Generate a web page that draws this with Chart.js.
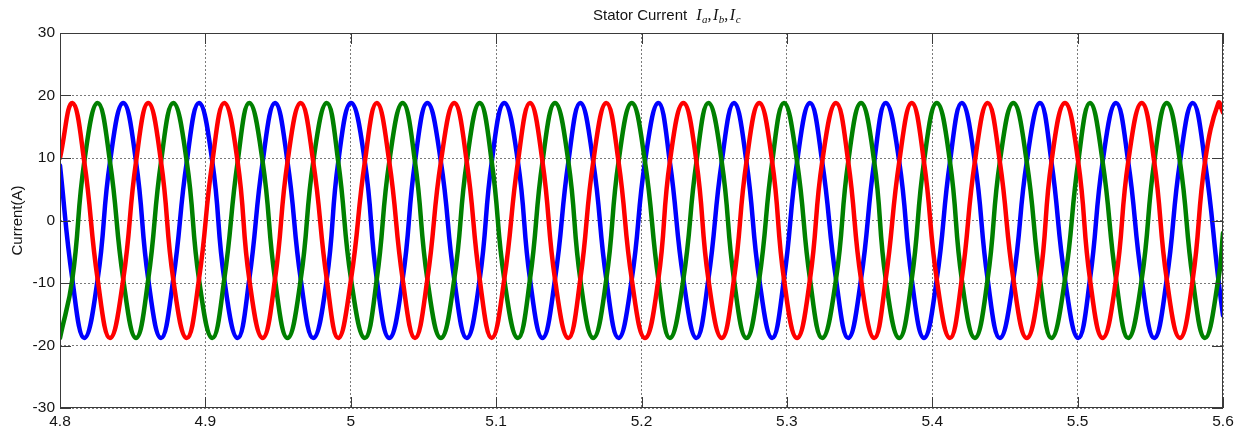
<!DOCTYPE html>
<html>
<head>
<meta charset="utf-8">
<title>Stator Current</title>
<script src="https://cdn.jsdelivr.net/npm/chart.js@4.4.1/dist/chart.umd.min.js"></script>
<style>
  html, body { margin: 0; padding: 0; background: #ffffff; }
  canvas { display: block; }
</style>
</head>
<body>
<canvas id="chart" width="1249" height="433"></canvas>
<script>
// Sample instants (s): each phase's peaks and troughs, plus the window edges.
const time = [
  4.8000, 4.8085, 4.8167, 4.8259, 4.8344, 4.8435, 4.8523,
  4.8607, 4.8695, 4.8779, 4.8872, 4.8956, 4.9048,
  4.9130, 4.9222, 4.9302, 4.9394, 4.9479, 4.9565,
  4.9656, 4.9742, 4.9835, 4.9914, 5.0002, 5.0097,
  5.0179, 5.0265, 5.0357, 5.0442, 5.0527, 5.0620,
  5.0712, 5.0798, 5.0887, 5.0970, 5.1056, 5.1150,
  5.1233, 5.1319, 5.1405, 5.1497, 5.1579, 5.1668,
  5.1758, 5.1842, 5.1933, 5.2024, 5.2116, 5.2195,
  5.2288, 5.2378, 5.2460, 5.2552, 5.2636, 5.2722,
  5.2810, 5.2899, 5.2980, 5.3070, 5.3159, 5.3243,
  5.3338, 5.3422, 5.3510, 5.3601, 5.3680, 5.3773,
  5.3859, 5.3943, 5.4031, 5.4122, 5.4203, 5.4293,
  5.4381, 5.4465, 5.4558, 5.4650, 5.4741, 5.4820,
  5.4913, 5.5004, 5.5085, 5.5172, 5.5264, 5.5348,
  5.5441, 5.5527, 5.5613, 5.5704, 5.5792, 5.5876,
  5.5968, 5.6000
];

// Phase currents (A) at those instants.
const currentA = [
  8.8,
  -9.4, -18.8, -9.4, 9.4, 18.8, 9.4,
  -9.4, -18.8, -9.4, 9.4, 18.8, 9.4,
  -9.4, -18.8, -9.4, 9.4, 18.8, 9.4,
  -9.4, -18.8, -9.4, 9.4, 18.8, 9.4,
  -9.4, -18.8, -9.4, 9.4, 18.8, 9.4,
  -9.4, -18.8, -9.4, 9.4, 18.8, 9.4,
  -9.4, -18.8, -9.4, 9.4, 18.8, 9.4,
  -9.4, -18.8, -9.4, 9.4, 18.8, 9.4,
  -9.4, -18.8, -9.4, 9.4, 18.8, 9.4,
  -9.4, -18.8, -9.4, 9.4, 18.8, 9.4,
  -9.4, -18.8, -9.4, 9.4, 18.8, 9.4,
  -9.4, -18.8, -9.4, 9.4, 18.8, 9.4,
  -9.4, -18.8, -9.4, 9.4, 18.8, 9.4,
  -9.4, -18.8, -9.4, 9.4, 18.8, 9.4,
  -9.4, -18.8, -9.4, 9.4, 18.8, 9.4,
  -9.4, -15.2
];
const currentB = [
  -18.8,
  -9.4, 9.4, 18.8, 9.4, -9.4, -18.8,
  -9.4, 9.4, 18.8, 9.4, -9.4, -18.8,
  -9.4, 9.4, 18.8, 9.4, -9.4, -18.8,
  -9.4, 9.4, 18.8, 9.4, -9.4, -18.8,
  -9.4, 9.4, 18.8, 9.4, -9.4, -18.8,
  -9.4, 9.4, 18.8, 9.4, -9.4, -18.8,
  -9.4, 9.4, 18.8, 9.4, -9.4, -18.8,
  -9.4, 9.4, 18.8, 9.4, -9.4, -18.8,
  -9.4, 9.4, 18.8, 9.4, -9.4, -18.8,
  -9.4, 9.4, 18.8, 9.4, -9.4, -18.8,
  -9.4, 9.4, 18.8, 9.4, -9.4, -18.8,
  -9.4, 9.4, 18.8, 9.4, -9.4, -18.8,
  -9.4, 9.4, 18.8, 9.4, -9.4, -18.8,
  -9.4, 9.4, 18.8, 9.4, -9.4, -18.8,
  -9.4, 9.4, 18.8, 9.4, -9.4, -18.8,
  -9.4, -2.0
];
const currentC = [
  10.0,
  18.8, 9.4, -9.4, -18.8, -9.4, 9.4,
  18.8, 9.4, -9.4, -18.8, -9.4, 9.4,
  18.8, 9.4, -9.4, -18.8, -9.4, 9.4,
  18.8, 9.4, -9.4, -18.8, -9.4, 9.4,
  18.8, 9.4, -9.4, -18.8, -9.4, 9.4,
  18.8, 9.4, -9.4, -18.8, -9.4, 9.4,
  18.8, 9.4, -9.4, -18.8, -9.4, 9.4,
  18.8, 9.4, -9.4, -18.8, -9.4, 9.4,
  18.8, 9.4, -9.4, -18.8, -9.4, 9.4,
  18.8, 9.4, -9.4, -18.8, -9.4, 9.4,
  18.8, 9.4, -9.4, -18.8, -9.4, 9.4,
  18.8, 9.4, -9.4, -18.8, -9.4, 9.4,
  18.8, 9.4, -9.4, -18.8, -9.4, 9.4,
  18.8, 9.4, -9.4, -18.8, -9.4, 9.4,
  18.8, 9.4, -9.4, -18.8, -9.4, 9.4,
  18.8, 17.3
];

// Axis ticks and text.
const timeTicks = [4.8, 4.9, 5.0, 5.1, 5.2, 5.3, 5.4, 5.5, 5.6];
const currentTicks = [-30, -20, -10, 0, 10, 20, 30];
const titleMain = 'Stator Current';
const phaseSubs = ['a', 'b', 'c'];
const yTitle = 'Current(A)';

const SANS = '"Liberation Sans", Arial, Helvetica, sans-serif';
const SERIF = '"Liberation Serif", "Times New Roman", serif';
const TEXT = '#141414';

function series(values) {
  return time.map((t, i) => ({ x: t, y: values[i] }));
}

function lineSet(label, values, color, order) {
  return {
    label,
    data: series(values),
    borderColor: color,
    backgroundColor: color,
    borderWidth: 4.5,
    pointRadius: 0,
    tension: 0.45,
    borderJoinStyle: 'round',
    borderCapStyle: 'round',
    fill: false,
    order
  };
}

// Axes box with short inward tick marks on all four sides.
const framePlugin = {
  id: 'frame',
  afterDatasetsDraw(chart) {
    const { ctx, chartArea: a, scales } = chart;
    const len = 11;
    ctx.save();
    ctx.strokeStyle = '#3a3a3a';
    ctx.lineWidth = 1;
    ctx.setLineDash([]);
    ctx.strokeRect(a.left + 0.5, a.top + 0.5, a.right - a.left - 1, a.bottom - a.top - 1);
    ctx.beginPath();
    timeTicks.forEach(v => {
      const px = Math.round(scales.x.getPixelForValue(v)) + 0.5;
      ctx.moveTo(px, a.bottom); ctx.lineTo(px, a.bottom - len);
      ctx.moveTo(px, a.top); ctx.lineTo(px, a.top + len);
    });
    currentTicks.forEach(v => {
      const py = Math.round(scales.y.getPixelForValue(v)) + 0.5;
      ctx.moveTo(a.left, py); ctx.lineTo(a.left + len, py);
      ctx.moveTo(a.right, py); ctx.lineTo(a.right - len, py);
    });
    ctx.stroke();
    ctx.restore();
  }
};

// Title with italic phase symbols and subscripts, plus the rotated y-axis label.
const textPlugin = {
  id: 'texts',
  afterDraw(chart) {
    const { ctx, chartArea: a } = chart;
    ctx.save();
    ctx.fillStyle = TEXT;
    ctx.textBaseline = 'alphabetic';
    ctx.textAlign = 'left';
    let x = 593;
    const y = 20;
    ctx.font = '15px ' + SANS;
    ctx.fillText(titleMain, x, y);
    x += ctx.measureText(titleMain).width + 9;
    phaseSubs.forEach((s, i) => {
      ctx.font = 'italic 16px ' + SERIF;
      ctx.fillText('I', x, y);
      x += ctx.measureText('I').width + 0.5;
      ctx.font = 'italic 11px ' + SERIF;
      ctx.fillText(s, x, y + 3);
      x += ctx.measureText(s).width;
      if (i < phaseSubs.length - 1) {
        ctx.font = '16px ' + SERIF;
        ctx.fillText(',', x, y);
        x += ctx.measureText(',').width + 1.5;
      }
    });

    ctx.font = '15px ' + SANS;
    ctx.translate(18, (a.top + a.bottom) / 2);
    ctx.rotate(-Math.PI / 2);
    ctx.textAlign = 'center';
    ctx.textBaseline = 'middle';
    ctx.fillText(yTitle, 0, 0);
    ctx.restore();
  }
};

const gridStyle = { color: '#7a7a7a', lineWidth: 1, drawTicks: false };
const borderStyle = { display: false, dash: [2, 2] };
const tickFont = { family: SANS, size: 15.5 };

new Chart(document.getElementById('chart'), {
  type: 'line',
  data: {
    datasets: [
      lineSet('Ic', currentC, '#ff0000', 0),
      lineSet('Ib', currentB, '#008000', 1),
      lineSet('Ia', currentA, '#0000ff', 2)
    ]
  },
  options: {
    responsive: false,
    devicePixelRatio: 1,
    animation: false,
    events: [],
    layout: { padding: { top: 33, right: 26, bottom: 0, left: 0 } },
    plugins: {
      legend: { display: false },
      tooltip: { enabled: false },
      title: { display: false }
    },
    scales: {
      x: {
        type: 'linear',
        min: 4.8,
        max: 5.6,
        afterBuildTicks: s => { s.ticks = timeTicks.map(v => ({ value: v })); },
        afterFit: s => { s.height = 25; },
        ticks: {
          autoSkip: false,
          maxRotation: 0,
          padding: 4,
          color: TEXT,
          font: tickFont,
          callback: v => String(Number(v.toFixed(2)))
        },
        grid: gridStyle,
        border: borderStyle
      },
      y: {
        type: 'linear',
        min: -30,
        max: 30,
        afterBuildTicks: s => { s.ticks = currentTicks.map(v => ({ value: v })); },
        afterFit: s => { s.width = 60; },
        ticks: {
          padding: 5,
          color: TEXT,
          font: tickFont,
          callback: v => String(v)
        },
        grid: gridStyle,
        border: borderStyle
      }
    }
  },
  plugins: [framePlugin, textPlugin]
});
</script>
</body>
</html>
